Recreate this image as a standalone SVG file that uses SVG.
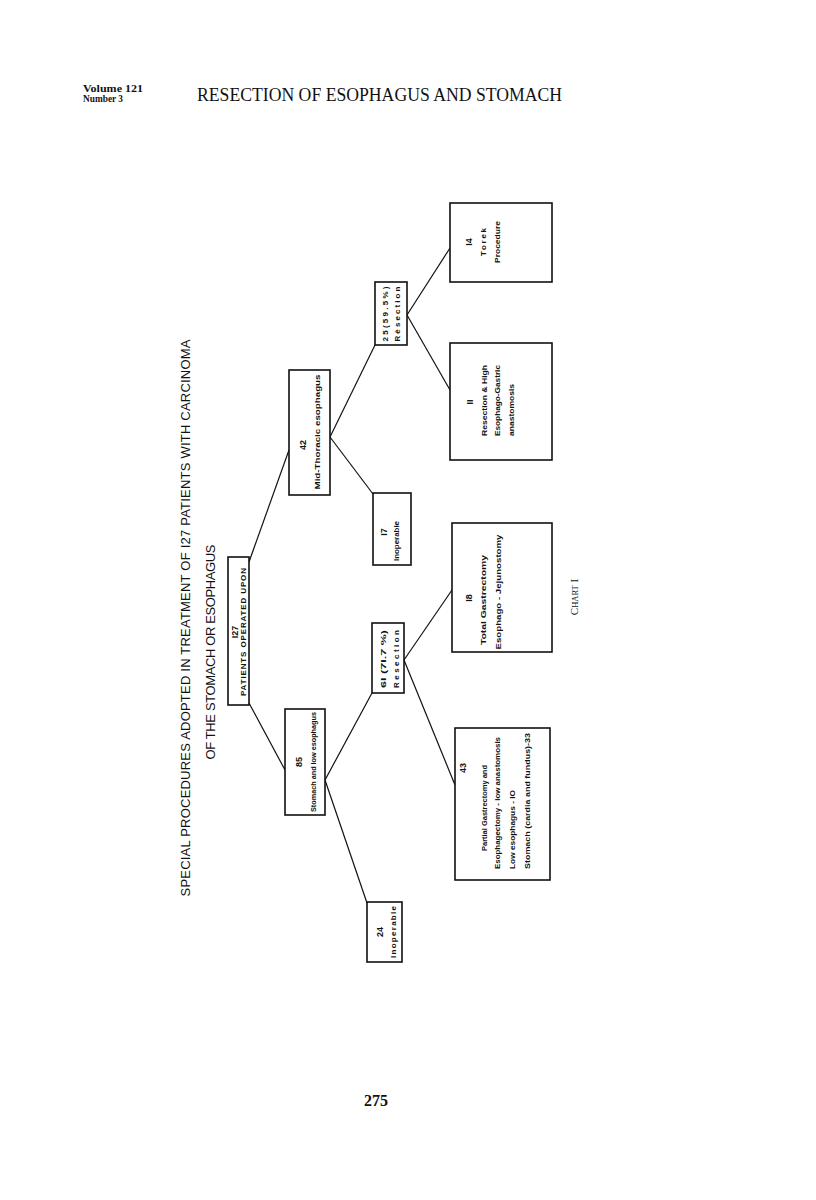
<svg xmlns="http://www.w3.org/2000/svg" width="816" height="1200" viewBox="0 0 816 1200">
<style>
.bg{fill:#ffffff}
.box{fill:#ffffff;stroke:#111;stroke-width:1.6}
.conn{stroke:#111;stroke-width:1.2;fill:none}
.hdr{font-family:"Liberation Serif",serif;fill:#111}
.ttl{font-family:"Liberation Sans",Arial,sans-serif;font-size:13px;fill:#111}
.num{font-family:"Liberation Sans",Arial,sans-serif;font-weight:bold;font-size:9px;fill:#111}
.lbl{font-family:"Liberation Sans",Arial,sans-serif;font-weight:bold;font-size:8px;fill:#111}
</style>
<rect class="bg" x="0" y="0" width="816" height="1200"/>
<g id="header">
<text class="hdr" x="83" y="92" font-size="11" font-weight="bold" textLength="60" lengthAdjust="spacingAndGlyphs">Volume 121</text>
<text class="hdr" x="83" y="102" font-size="11" font-weight="bold" textLength="40" lengthAdjust="spacingAndGlyphs">Number 3</text>
<text class="hdr" x="197" y="101" font-size="18" textLength="365" lengthAdjust="spacingAndGlyphs">RESECTION OF ESOPHAGUS AND STOMACH</text>
</g>
<g id="title">
<text class="ttl" transform="translate(189.5,618) rotate(-90)" text-anchor="middle" textLength="557" lengthAdjust="spacing">SPECIAL  PROCEDURES  ADOPTED  IN  TREATMENT  OF I27  PATIENTS  WITH  CARCINOMA</text>
<text class="ttl" transform="translate(214.5,652) rotate(-90)" text-anchor="middle" textLength="215" lengthAdjust="spacing">OF THE  STOMACH  OR  ESOPHAGUS</text>
</g>
<g id="connectors">
<line class="conn" x1="249" y1="562" x2="289" y2="450"/>
<line class="conn" x1="249" y1="703" x2="285" y2="770"/>
<line class="conn" x1="325" y1="780" x2="372" y2="693"/>
<line class="conn" x1="325" y1="780" x2="367" y2="903"/>
<line class="conn" x1="330" y1="437" x2="375" y2="345"/>
<line class="conn" x1="330" y1="437" x2="373" y2="494"/>
<line class="conn" x1="404" y1="660" x2="452" y2="590"/>
<line class="conn" x1="404" y1="660" x2="455" y2="785"/>
<line class="conn" x1="407" y1="315" x2="450" y2="248"/>
<line class="conn" x1="407" y1="315" x2="450" y2="390"/>
</g>
<g id="n127">
<rect class="box" x="228" y="557" width="21" height="148"/>
<text class="num" font-size="11" transform="translate(237.5,632) rotate(-90)" text-anchor="middle">I27</text>
<text class="lbl" font-size="7" transform="translate(246,632) rotate(-90)" text-anchor="middle" textLength="128" lengthAdjust="spacing">PATIENTS  OPERATED  UPON</text>
</g>
<g id="n42">
<rect class="box" x="289" y="370" width="41" height="125"/>
<text class="num" transform="translate(305.5,445) rotate(-90)" text-anchor="middle">42</text>
<text class="lbl" transform="translate(320,432) rotate(-90)" text-anchor="middle" textLength="115" lengthAdjust="spacingAndGlyphs">Mid-Thoracic  esophagus</text>
</g>
<g id="n85">
<rect class="box" x="285" y="709" width="40" height="106"/>
<text class="num" transform="translate(301.5,762) rotate(-90)" text-anchor="middle">85</text>
<text class="lbl" transform="translate(316,762) rotate(-90)" text-anchor="middle" textLength="100" lengthAdjust="spacingAndGlyphs">Stomach  and  low  esophagus</text>
</g>
<g id="n24">
<rect class="box" x="367" y="902" width="35" height="60"/>
<text class="num" transform="translate(382.5,932) rotate(-90)" text-anchor="middle">24</text>
<text class="lbl" transform="translate(396,932) rotate(-90)" text-anchor="middle" textLength="52" lengthAdjust="spacing">Inoperable</text>
</g>
<g id="n61">
<rect class="box" x="372" y="623" width="32" height="70"/>
<text class="lbl" transform="translate(386,659) rotate(-90)" text-anchor="middle" textLength="58" lengthAdjust="spacingAndGlyphs">6I (7I.7 %)</text>
<text class="lbl" transform="translate(398.5,659) rotate(-90)" text-anchor="middle" textLength="58" lengthAdjust="spacing">Resection</text>
</g>
<g id="n17">
<rect class="box" x="373" y="493" width="38" height="72"/>
<text class="num" transform="translate(386.5,532) rotate(-90)" text-anchor="middle">I7</text>
<text class="lbl" transform="translate(399,541) rotate(-90)" text-anchor="middle" textLength="40" lengthAdjust="spacingAndGlyphs">Inoperable</text>
</g>
<g id="n25">
<rect class="box" x="375" y="282" width="32" height="63"/>
<text class="lbl" transform="translate(388,314) rotate(-90)" text-anchor="middle" textLength="55" lengthAdjust="spacing">25(59.5%)</text>
<text class="lbl" transform="translate(400,314) rotate(-90)" text-anchor="middle" textLength="55" lengthAdjust="spacing">Rèsection</text>
</g>
<g id="n18">
<rect class="box" x="452" y="523" width="100" height="129"/>
<text class="num" transform="translate(472,598) rotate(-90)" text-anchor="middle">I8</text>
<text class="lbl" transform="translate(486,600) rotate(-90)" text-anchor="middle" textLength="90" lengthAdjust="spacingAndGlyphs">Total  Gastrectomy</text>
<text class="lbl" transform="translate(501,592) rotate(-90)" text-anchor="middle" textLength="115" lengthAdjust="spacingAndGlyphs">Esophago - Jejunostomy</text>
</g>
<g id="n43">
<rect class="box" x="455" y="728" width="95" height="152"/>
<text class="num" transform="translate(465.5,768) rotate(-90)" text-anchor="middle">43</text>
<text class="lbl" transform="translate(487,808) rotate(-90)" text-anchor="middle" textLength="86" lengthAdjust="spacingAndGlyphs">Partial  Gastrectomy  and</text>
<text class="lbl" transform="translate(500,869) rotate(-90)" textLength="132" lengthAdjust="spacingAndGlyphs">Esophagectomy - low anastomosis</text>
<text class="lbl" transform="translate(515,869) rotate(-90)" textLength="79" lengthAdjust="spacingAndGlyphs">Low  esophagus - IO</text>
<text class="lbl" transform="translate(530,869) rotate(-90)" textLength="136" lengthAdjust="spacingAndGlyphs">Stomach (cardia and fundus)-33</text>
</g>
<g id="n11">
<rect class="box" x="450" y="343" width="102" height="117"/>
<text class="num" transform="translate(473,402) rotate(-90)" text-anchor="middle">II</text>
<text class="lbl" transform="translate(487,436) rotate(-90)" textLength="71" lengthAdjust="spacingAndGlyphs">Resection &amp; High</text>
<text class="lbl" transform="translate(500,436) rotate(-90)" textLength="71" lengthAdjust="spacingAndGlyphs">Esophago-Gastric</text>
<text class="lbl" transform="translate(514,436) rotate(-90)" textLength="52" lengthAdjust="spacingAndGlyphs">anastomosis</text>
</g>
<g id="n14">
<rect class="box" x="450" y="203" width="102" height="79"/>
<text class="num" transform="translate(472,242) rotate(-90)" text-anchor="middle">I4</text>
<text class="lbl" transform="translate(486,242) rotate(-90)" text-anchor="middle" textLength="28" lengthAdjust="spacing">Torek</text>
<text class="lbl" transform="translate(500,242) rotate(-90)" text-anchor="middle" textLength="42" lengthAdjust="spacingAndGlyphs">Procedure</text>
</g>
<g id="footer">
<text class="hdr" transform="translate(578,597) rotate(-90)" text-anchor="middle"><tspan font-size="11">C</tspan><tspan font-size="8.5">HART</tspan><tspan font-size="11"> I</tspan></text>
<text class="hdr" x="376" y="1106" font-size="16" font-weight="bold" text-anchor="middle">275</text>
</g>
</svg>
